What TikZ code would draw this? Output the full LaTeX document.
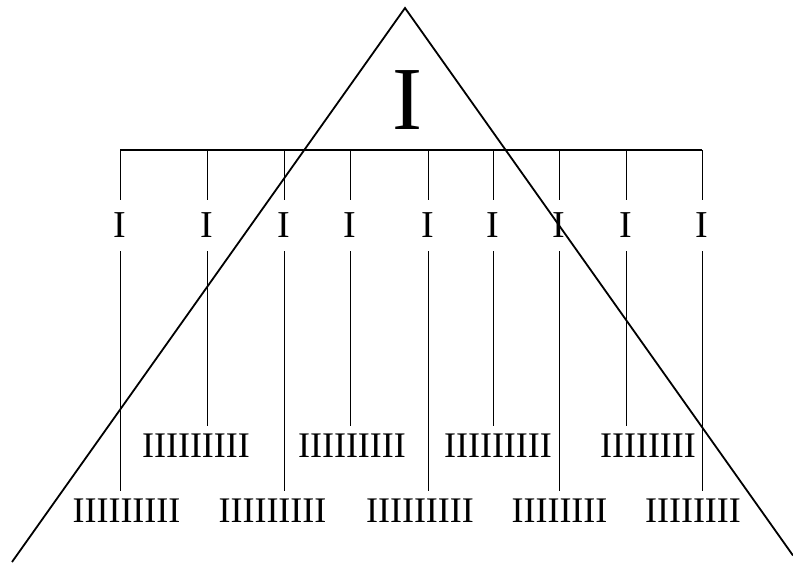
\documentclass[tikz,border=0pt]{standalone}
\usepackage{fontspec}
\setmainfont{Liberation Serif}
\begin{document}
\begin{tikzpicture}[x=1pt,y=-1pt,
  tri/.style={line width=1.8pt},
  bar/.style={line width=1.4pt},
  stem/.style={line width=0.9pt},
  one/.style={inner xsep=0pt, inner ysep=13pt, font=\fontsize{38}{38}\selectfont, text height=25pt, text depth=0pt},
  grp/.style={inner xsep=0pt, inner ysep=7pt, font=\fontsize{36}{36}\selectfont, text height=24pt, text depth=0pt},
  big/.style={inner sep=0pt, font=\fontsize{90}{90}\selectfont}]
\useasboundingbox (0,0) rectangle (793,564);
% triangle
\coordinate (A) at (405,8);
\coordinate (B) at (12,562);
\coordinate (C) at (793,555.5);
\draw[tri] (B) -- (A) -- (C);
\node[big] (top) at (407,100) {I};
% bar and ticks
\coordinate (t1) at (120,150);
\coordinate (t2) at (207,150);
\coordinate (t3) at (284,150);
\coordinate (t4) at (350,150);
\coordinate (t5) at (428,150);
\coordinate (t6) at (493,150);
\coordinate (t7) at (559,150);
\coordinate (t8) at (626,150);
\coordinate (t9) at (702,150);
\draw[bar] (t1) -- (t9);
% single labels
\node[one] (s1) at (120,225.5) {I};
\node[one] (s2) at (207,225.5) {I};
\node[one] (s3) at (284,225.5) {I};
\node[one] (s4) at (350,225.5) {I};
\node[one] (s5) at (428,225.5) {I};
\node[one] (s6) at (493,225.5) {I};
\node[one] (s7) at (559,225.5) {I};
\node[one] (s8) at (626,225.5) {I};
\node[one] (s9) at (702,225.5) {I};
% group labels
\node[grp] (g1) at (126.5,510.5) {IIIIIIIII};
\node[grp] (g2) at (196,445) {IIIIIIIII};
\node[grp] (g3) at (272.5,510.5) {IIIIIIIII};
\node[grp] (g4) at (352,445) {IIIIIIIII};
\node[grp] (g5) at (420,510.5) {IIIIIIIII};
\node[grp] (g6) at (498,445) {IIIIIIIII};
\node[grp] (g7) at (559.5,510.5) {IIIIIIII};
\node[grp] (g8) at (648,445) {IIIIIIII};
\node[grp] (g9) at (693,510.5) {IIIIIIII};
% stems
\foreach \i in {1,...,9}{
  \draw[stem] (t\i) -- (s\i.north);
  \draw[stem] (s\i.south) -- (s\i.south |- g\i.north);
}
\end{tikzpicture}
\end{document}
